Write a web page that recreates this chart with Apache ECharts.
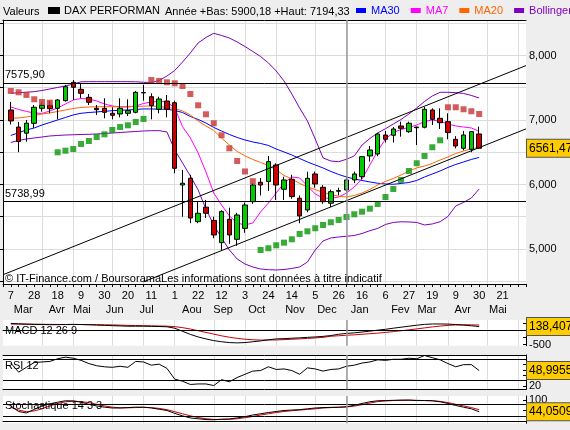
<!DOCTYPE html>
<html><head><meta charset="utf-8">
<script src="https://cdn.jsdelivr.net/npm/echarts@6/dist/echarts.min.js"></script>
<style>html,body{margin:0;padding:0;background:#eeeeee}#c{width:570px;height:430px}</style>
</head><body><div id="c"></div>
<script>
// ---- categories (weekly) ----
const weeks = ['2011-02-28','2011-03-07','2011-03-14','2011-03-21','2011-03-28','2011-04-04','2011-04-11','2011-04-18','2011-04-25','2011-05-02','2011-05-09','2011-05-16','2011-05-23','2011-05-30','2011-06-06','2011-06-13','2011-06-20','2011-06-27','2011-07-04','2011-07-11','2011-07-18','2011-07-25','2011-08-01','2011-08-08','2011-08-15','2011-08-22','2011-08-29','2011-09-05','2011-09-12','2011-09-19','2011-09-26','2011-10-03','2011-10-10','2011-10-17','2011-10-24','2011-10-31','2011-11-07','2011-11-14','2011-11-21','2011-11-28','2011-12-05','2011-12-12','2011-12-19','2011-12-26','2012-01-02','2012-01-09','2012-01-16','2012-01-23','2012-01-30','2012-02-06','2012-02-13','2012-02-20','2012-02-27','2012-03-05','2012-03-12','2012-03-19','2012-03-26','2012-04-02','2012-04-09','2012-04-16','2012-04-23','2012-04-30','2012-05-07','2012-05-14','2012-05-21','2012-05-28','2012-06-04','2012-06-11'];
const firstCandle = 1; // data starts at weeks[1]
const lastTickLabel = 64; // last labelled week (21 Mai)
const monthStartIdx = [5,9,14,18,22,27,31,35,40,44,49,53,57,62,66];
const yearStart = '2012-01-02';
const monthNames = ['Mar','Avr','Mai','Jun','Jul','Aou','Sep','Oct','Nov','Dec','Jan','Fev','Mar','Avr','Mai'];
const monthLabelPos = [2.6,6.9,10.1,14.3,18.4,24.2,28.2,32.5,37.4,41.5,45.7,50.9,54.3,58.9,63.4];
const priceTicks = [4500,5000,5500,6000,6500,7000,7500,8000,8500];
const priceLabels = [5000,6000,7000,8000];

// ---- OHLC ----
const candleOpen = [7155,6890,6795,6948,7181,7228,7181,7300,7584,7475,7351,7181,7181,7104,7093,7104,7119,7420,7361,7166,7294,7268,5992,6096,5424,5648,5442,5098,5460,5150,5320,5733,6034,6045,6302,5926,6081,5786,5605,6163,5956,5709,5895,5915,6070,6121,6442,6473,6767,6763,6907,6819,6890,6887,7155,7026,6974,6700,6561,6545,6783];
const candleHigh = [7280,6970,7000,7232,7268,7295,7325,7543,7620,7558,7403,7232,7336,7197,7336,7320,7450,7543,7413,7361,7387,7300,6225,6150,5733,5760,5501,5600,5640,5560,5720,6020,6100,6442,6328,6121,6150,5830,6198,6200,5990,5920,5950,6120,6200,6440,6597,6800,6830,6890,6974,6974,6897,7200,7181,7181,7104,6750,6830,6830,6897];
const candleLow = [6930,6500,6664,6876,7129,7104,7010,7284,7310,7341,7232,7078,7026,7010,7042,7062,7104,7300,7010,7104,7042,6174,5500,5400,5399,5480,5167,4980,5080,5050,5250,5700,5830,5900,5760,5760,5780,5398,5570,5950,5700,5650,5830,5880,6020,6080,6354,6440,6650,6650,6741,6800,6612,6870,6922,6860,6700,6560,6530,6500,6560];
const candleClose = [6985,6665,6950,7197,7228,7175,7310,7516,7507,7413,7274,7160,7119,7073,7181,7145,7429,7425,7222,7325,7166,6251,6019,5480,5553,5554,5217,5580,5217,5527,5682,5992,5992,6354,5992,6070,5812,5512,6096,6008,5733,5888,5905,6070,6163,6431,6535,6783,6700,6860,6871,6949,6880,7166,7010,6958,6804,6597,6767,6819,6561.47];

// ---- overlays ----
const ma30 = [6760,6803,6845,6876,6922,6961,7000,7039,7078,7104,7116,7124,7135,7144,7150,7155,7163,7171,7171,7167,7166,7147,7116,7054,7008,6953,6884,6829,6775,6729,6690,6659,6636,6605,6550,6504,6457,6403,6349,6302,6256,6202,6155,6116,6085,6062,6039,6019,6008,6003,6016,6031,6062,6116,6163,6209,6264,6310,6349,6388,6419];
const ma20 = [7026,7031,7047,7070,7093,7109,7132,7155,7178,7194,7202,7206,7206,7206,7206,7206,7209,7214,7217,7209,7194,7178,7140,7078,6984,6907,6837,6721,6612,6512,6442,6388,6341,6295,6225,6140,6085,6016,5961,5922,5876,5845,5817,5806,5829,5868,5922,5992,6047,6093,6147,6209,6256,6287,6326,6380,6426,6481,6519,6550,6581];
const ma7 = [7202,7163,7132,7109,7101,7140,7186,7248,7310,7333,7326,7295,7248,7217,7202,7202,7217,7256,7279,7287,7279,7186,6896,6721,6488,6194,5868,5682,5512,5403,5372,5403,5574,5713,5868,6023,6116,6101,5977,5853,5791,5783,5806,5868,5961,6085,6302,6519,6705,6806,6853,6884,6922,6977,7000,6977,6938,6907,6891,6876,6822];
const bollUpper = [7414,7422,7431,7439,7457,7481,7504,7527,7558,7592,7594,7594,7594,7594,7594,7594,7592,7584,7581,7612,7682,7767,7899,8039,8194,8279,8344,8310,8271,8209,8139,8062,7984,7884,7760,7605,7403,7186,6984,6705,6411,6364,6353,6391,6442,6612,6713,6798,6865,6938,7008,7093,7186,7287,7372,7429,7429,7424,7411,7380,7341];
const bollLower = [6651,6682,6705,6721,6736,6752,6760,6767,6771,6775,6778,6783,6791,6798,6806,6814,6822,6829,6834,6834,6814,6535,6333,6132,5915,5620,5372,5171,4984,4845,4767,4721,4690,4679,4674,4682,4698,4721,4798,4984,5124,5171,5186,5197,5209,5240,5284,5318,5380,5411,5422,5419,5411,5372,5388,5423,5504,5667,5721,5791,5930];
const sarValue = [7450,7429,7388,7321,7279,7268,6499,6524,6550,6628,6674,6736,6778,6845,6891,6918,6969,7016,7620,7605,7584,7569,7527,7403,7228,7088,6949,6763,6561,6364,6202,6051,4984,5011,5057,5098,5150,5233,5274,5321,5372,5414,5450,5496,5538,5578,5625,5698,5806,5930,6070,6209,6329,6442,6577,6685,7197,7197,7166,7135,7093];
const sarAbove = [1,1,1,1,1,1,0,0,0,0,0,0,0,0,0,0,0,0,1,1,1,1,1,1,1,1,1,1,1,1,1,1,0,0,0,0,0,0,0,0,0,0,0,0,0,0,0,0,0,0,0,0,0,0,0,0,1,1,1,1,1];
const levels = [7575.90, 5738.99];
const levelText = ['7575,90','5738,99'];
const trendUpper = [[0,4601],[67,7843]];
const trendLower = [[18,4491],[67,6862]];

// ---- indicators ----
const macdLine = [250,235,225,215,210,205,205,210,215,210,200,190,180,170,160,150,150,150,145,140,130,80,-30,-140,-230,-300,-360,-400,-430,-440,-430,-400,-370,-330,-300,-290,-275,-262,-245,-230,-210,-180,-135,-105,-85,-55,-25,10,40,80,115,150,185,215,230,230,225,210,190,165,138.4];
const macdSignal = [225,225,222,220,218,215,212,210,210,210,208,205,200,195,188,180,175,168,162,158,152,135,100,50,-10,-70,-130,-190,-240,-280,-310,-330,-340,-340,-335,-325,-312,-298,-282,-265,-245,-205,-188,-170,-155,-135,-115,-95,-70,-40,-10,20,55,90,125,155,180,195,200,198,192];
const rsi12 = [63,46,55,64,65,66,71,74,72,68,62,58,56,55,57,55,66,65,59,61,53,33,29,23,24,24,21,32,28,36,42,48,49,56,51,52,49,42,54,52,48,51,52,57,59,63,65,69,68,70,70,72,71,77,73,69,62,56,60,60,49];
const stochK = [72,45,38,55,72,82,90,97,96,90,80,72,66,62,62,64,66,66,62,56,50,36,24,14,10,6,5,8,9,14,20,28,34,40,45,50,52,54,58,62,64,65,66,68,75,84,92,97,98,99,100,100,98,98,97,92,84,74,66,58,44];
const stochD = [65,52,44,48,58,72,84,92,95,93,88,80,72,66,63,63,64,65,64,60,54,44,34,24,16,10,7,6,7,10,15,21,28,34,40,45,49,52,55,58,62,64,65,67,71,78,86,93,96,98,99,100,99,98,97,94,88,80,72,64,54];
const lastText = {price:'6561,47', macd:'138,4072', rsi:'48,9955', stoch:'44,0509'};

// ---- build ----
const N = weeks.length;
const pad = a => weeks.map((w,i)=>{const k=i-firstCandle;return (k>=0&&k<a.length)?a[k]:'-';});
const candleData = weeks.map((w,i)=>{const k=i-firstCandle;return (k>=0&&k<candleOpen.length)?[candleOpen[k],candleClose[k],candleLow[k],candleHigh[k]]:'-';});
const sarHi = pad(sarValue.map((v,k)=>sarAbove[k]?v:'-'));
const sarLo = pad(sarValue.map((v,k)=>sarAbove[k]?'-':v));
const FONT = 'Liberation Sans, Arial, sans-serif';
const GRID_L = 3, GRID_R = 44;
const monthSplit = {show:true, interval:(i)=>monthStartIdx.indexOf(i)>=0, lineStyle:{color:'#dcdcdc',width:1}};
const noLine = {symbol:'none', showSymbol:false};
function box(val, txt){
  return {yAxis:val, lineStyle:{color:'rgba(0,0,0,0)'}, label:{show:true, position:'end', distance:1, formatter:txt, backgroundColor:'#ffcc00', borderColor:'#555', borderWidth:1, padding:[3,2,2,2], color:'#000', fontSize:12, fontFamily:FONT}};
}
function hline(val, color){ return {yAxis:val, lineStyle:{color:color||'#000', width:1, type:'solid'}, label:{show:false}}; }
const yearLine = {xAxis:yearStart, lineStyle:{color:'#9a9a9a', width:1.5, type:'solid'}, label:{show:false}};
const tl = (p, first) => first ? {coord:[weeks[p[0]], p[1]], lineStyle:{color:'#000', width:1, type:'solid'}, label:{show:false}} : {coord:[weeks[p[0]], p[1]]};

function subX(grid){
  return {gridIndex:grid, type:'category', data:weeks, boundaryGap:false, axisLine:{lineStyle:{color:'#000'}}, axisTick:{show:false}, axisLabel:{show:false}, splitLine:monthSplit};
}
function subXTop(grid){
  return {gridIndex:grid, type:'category', data:weeks, boundaryGap:false, position:'top', axisLine:{lineStyle:{color:'#000'}}, axisTick:{show:false}, axisLabel:{show:false}, splitLine:{show:false}};
}
function subY(grid, min, max, ticks, labels){
  return {gridIndex:grid, type:'value', position:'right', min:min, max:max, splitLine:{show:false},
    axisLine:{show:true, lineStyle:{color:'#000'}},
    axisTick:{show:true, inside:true, length:3, customValues:ticks, lineStyle:{color:'#000'}},
    axisLabel:{customValues:labels, color:'#000', fontSize:11, margin:3, fontFamily:FONT}};
}

const option = {
  animation:false,
  backgroundColor:'#eeeeee',
  textStyle:{fontFamily:FONT, fontSize:11},
  title:[
    {text:'Valeurs', left:3, top:6, padding:0, textStyle:{fontSize:11, fontWeight:'normal', color:'#000', fontFamily:FONT}},
    {text:'Année +Bas: 5900,18 +Haut: 7194,33', left:165, top:6, padding:0, textStyle:{fontSize:11, fontWeight:'normal', color:'#000', fontFamily:FONT}},
    {text:'© IT-Finance.com / BoursoramaLes informations sont données à titre indicatif', left:5, top:273, padding:0, textStyle:{fontSize:11, fontWeight:'normal', color:'#000', fontFamily:FONT}}
  ],
  legend:[
    {left:48, top:5, padding:0, itemWidth:10, itemHeight:5, icon:'rect', textStyle:{fontSize:11, color:'#000', fontFamily:FONT},
     data:[{name:'DAX PERFORMAN', itemStyle:{color:'#000'}}]},
    {left:356, top:5, width:320, padding:0, itemWidth:10, itemHeight:5, itemGap:11, icon:'rect', textStyle:{fontSize:11, fontFamily:FONT},
     data:[{name:'MA30', textStyle:{color:'#0000ff'}},{name:'MA7', textStyle:{color:'#ff00ff'}},{name:'MA20', textStyle:{color:'#ff6600'}},{name:'Bollinger', textStyle:{color:'#8000c0'}}]}
  ],
  grid:[
    {left:GRID_L, right:GRID_R, top:20, height:264, show:true, backgroundColor:'#fff', borderWidth:0},
    {left:GRID_L, right:GRID_R, top:320, height:25.7, show:true, backgroundColor:'#fff', borderWidth:0},
    {left:GRID_L, right:GRID_R, top:355, height:34.3, show:true, backgroundColor:'#fff', borderWidth:0},
    {left:GRID_L, right:GRID_R, top:396, height:27.3, show:true, backgroundColor:'#fff', borderWidth:0}
  ],
  xAxis:[
    {gridIndex:0, type:'category', data:weeks, boundaryGap:false, position:'bottom',
     axisLine:{lineStyle:{color:'#000'}}, axisTick:{interval:0, length:3, lineStyle:{color:'#000'}},
     axisLabel:{interval:(i)=>i%3===1 && i<=lastTickLabel, formatter:(v)=>String(parseInt(v.slice(8),10)), color:'#000', fontSize:11, margin:6, fontFamily:FONT},
     splitLine:monthSplit},
    {gridIndex:0, type:'value', min:0, max:N-1, position:'bottom', offset:14,
     axisLine:{show:false}, axisTick:{show:false}, splitLine:{show:false},
     axisLabel:{customValues:monthLabelPos, formatter:(v)=>{const k=monthLabelPos.indexOf(v);return k>=0?monthNames[k]:'';}, color:'#000', fontSize:11, margin:6, fontFamily:FONT}},
    {gridIndex:0, type:'category', data:weeks, boundaryGap:false, position:'top', axisLine:{lineStyle:{color:'#000'}}, axisTick:{show:false}, axisLabel:{show:false}, splitLine:{show:false}},
    subX(1), subX(2), subXTop(2), subX(3)
  ],
  yAxis:[
    {gridIndex:0, type:'value', position:'right', min:4457, max:8550,
     axisLine:{show:true, lineStyle:{color:'#000'}},
     axisTick:{show:true, inside:true, length:3, customValues:priceTicks, lineStyle:{color:'#000'}},
     axisLabel:{customValues:priceLabels, color:'#000', fontSize:11, margin:3, fontFamily:FONT},
     splitLine:{show:true, lineStyle:{color:'#dcdcdc'}}},
    subY(1, -540, 370, [250,0,-250,-500], [-500]),
    subY(2, 14, 78, [70,60,50,40,30,20], [20]),
    subY(3, -12, 120, [100,50,0], [100])
  ],
  series:[
    {name:'MA30', type:'line', xAxisIndex:0, yAxisIndex:0, data:pad(ma30), ...noLine, lineStyle:{color:'#0000ff', width:1}, itemStyle:{color:'#0000ff'}, z:2},
    {name:'MA7', type:'line', xAxisIndex:0, yAxisIndex:0, data:pad(ma7), ...noLine, lineStyle:{color:'#ff00ff', width:1}, itemStyle:{color:'#ff00ff'}, z:2},
    {name:'MA20', type:'line', xAxisIndex:0, yAxisIndex:0, data:pad(ma20), ...noLine, lineStyle:{color:'#ff6600', width:1}, itemStyle:{color:'#ff6600'}, z:2},
    {name:'Bollinger', type:'line', xAxisIndex:0, yAxisIndex:0, data:pad(bollUpper), ...noLine, lineStyle:{color:'#8000c0', width:1}, itemStyle:{color:'#8000c0'}, z:2},
    {name:'Bollinger', type:'line', xAxisIndex:0, yAxisIndex:0, data:pad(bollLower), ...noLine, lineStyle:{color:'#8000c0', width:1}, itemStyle:{color:'#8000c0'}, z:2},
    {name:'DAX PERFORMAN', type:'candlestick', xAxisIndex:0, yAxisIndex:0, data:candleData, barWidth:5, z:3,
     itemStyle:{color:'#00cc00', color0:'#cc0000', borderColor:'#000', borderColor0:'#000', borderWidth:1},
     markLine:{silent:true, symbol:['none','none'], animation:false, data:[
       {yAxis:levels[0], lineStyle:{color:'#000', width:1, type:'solid'}, label:{show:true, position:'insideStartTop', formatter:levelText[0], color:'#000', fontSize:11, distance:[2,2], fontFamily:FONT}},
       {yAxis:levels[1], lineStyle:{color:'#000', width:1, type:'solid'}, label:{show:true, position:'insideStartTop', formatter:levelText[1], color:'#000', fontSize:11, distance:[2,2], fontFamily:FONT}},
       [tl(trendUpper[0],true), tl(trendUpper[1],false)],
       [tl(trendLower[0],true), tl(trendLower[1],false)],
       yearLine,
       box(candleClose[candleClose.length-1], lastText.price)
     ]}},
    {name:'SARH', type:'scatter', xAxisIndex:0, yAxisIndex:0, data:sarHi, symbol:'rect', symbolSize:6, itemStyle:{color:'#c83232'}, z:4},
    {name:'SARL', type:'scatter', xAxisIndex:0, yAxisIndex:0, data:sarLo, symbol:'rect', symbolSize:6, itemStyle:{color:'#079607'}, z:4},
    {name:'MACD', type:'line', xAxisIndex:3, yAxisIndex:1, data:pad(macdLine), ...noLine, lineStyle:{color:'#000', width:1}, z:3,
     markLine:{silent:true, symbol:['none','none'], data:[hline(0), yearLine, box(macdLine[macdLine.length-1], lastText.macd)]}},
    {name:'Signal', type:'line', xAxisIndex:3, yAxisIndex:1, data:pad(macdSignal), ...noLine, lineStyle:{color:'#cc0000', width:1}, z:2},
    {name:'RSI', type:'line', xAxisIndex:4, yAxisIndex:2, data:pad(rsi12), ...noLine, lineStyle:{color:'#000', width:1}, z:3,
     markLine:{silent:true, symbol:['none','none'], data:[hline(70), hline(30), yearLine, box(rsi12[rsi12.length-1], lastText.rsi)]}},
    {name:'StochK', type:'line', xAxisIndex:6, yAxisIndex:3, data:pad(stochK), ...noLine, lineStyle:{color:'#000', width:1}, z:3,
     markLine:{silent:true, symbol:['none','none'], data:[hline(80), hline(20), yearLine, box(stochK[stochK.length-1], lastText.stoch)]}},
    {name:'StochD', type:'line', xAxisIndex:6, yAxisIndex:3, data:pad(stochD), ...noLine, lineStyle:{color:'#cc0000', width:1}, z:2}
  ],
  graphic:[
    {type:'text', left:5, top:325, style:{text:'MACD 12 26 9', fontSize:11, fill:'#000', fontFamily:FONT}, z:10},
    {type:'text', left:5, top:360, style:{text:'RSI 12', fontSize:11, fill:'#000', fontFamily:FONT}, z:10},
    {type:'text', left:5, top:400, style:{text:'Stochastique 14 3 3', fontSize:11, fill:'#000', fontFamily:FONT}, z:10}
  ]
};
const chart = echarts.init(document.getElementById('c'));
chart.setOption(option);
</script>
</body></html>
